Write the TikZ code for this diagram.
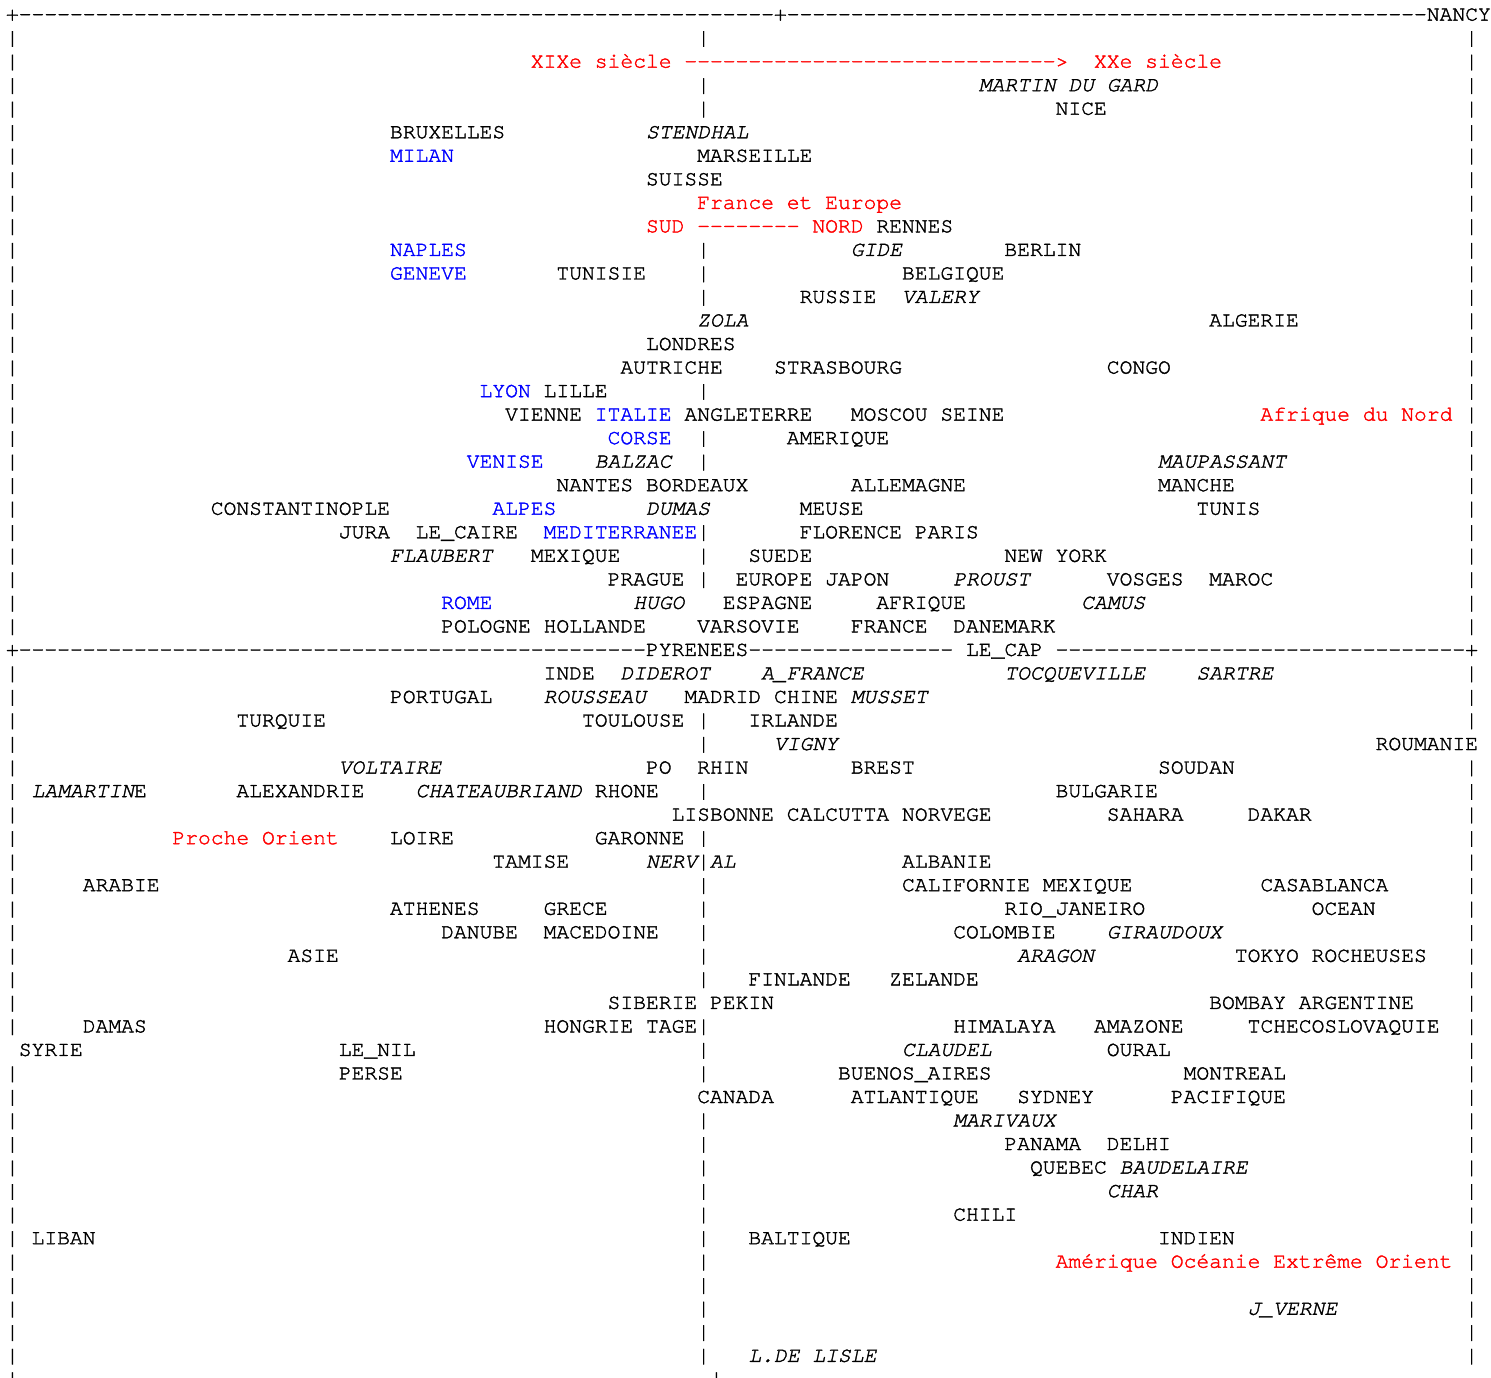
\documentclass[tikz,border=0pt]{standalone}
\usepackage{fontspec}
\newfontfamily\mono{texgyrecursor}[Extension=.otf, UprightFont=*-regular, ItalicFont=*-italic, BoldFont=*-bold, BoldItalicFont=*-bolditalic, FakeBold=1.6]
\newcommand\mf{\mono\fontsize{10.667pt}{11.76pt}\selectfont}
\newcount\wcount
\tikzset{
  w/.style={anchor=base west, inner sep=0pt, outer sep=0pt, font=\mf, text=black},
  it/.style={font=\mf\itshape},
  rd/.style={text=red},
  bl/.style={text=blue}
}
% \W[style]{column}{row}{text}
\newcommand{\W}[4][]{\global\advance\wcount by 1
  \node[w,#1] (w\the\wcount) at ({3pt+#2*6.4pt},{-10.3pt-#3*11.765pt}) {#4};}
\begin{document}
\begin{tikzpicture}
\fill[white] (0,0) rectangle (745.5pt,-688.5pt);
\useasboundingbox (0,0) rectangle (745.5pt,-688.5pt);
% ---- frame: top line
\W{0}{0}{+}
\foreach \c in {1,...,59} {\W{\c}{0}{-}}
\W{60}{0}{+}
\foreach \c in {61,...,110} {\W{\c}{0}{-}}
\W{111}{0}{NANCY}
% ---- middle line
\W{0}{27}{+}
\foreach \c in {1,...,49} {\W{\c}{27}{-}}
\W{50}{27}{PYRENEES}
\foreach \c in {58,...,73} {\W{\c}{27}{-}}
\W{75}{27}{LE\_CAP}
\foreach \c in {82,...,113} {\W{\c}{27}{-}}
\W{114}{27}{+}
% ---- left border
\foreach \r in {1,...,26,28,29,...,43,45,46,...,58} {\W{0}{\r}{|}}
% ---- right border
\foreach \r in {1,...,26,28,29,30,32,33,...,57} {\W{114}{\r}{|}}
% ---- middle axis
\foreach \r in {1,3,4,10,11,12,16,18,19,22,23,24,30,31,33,35,36,37,38,39,40,41,43,44,45,47,48,49,50,51,52,53,54,55,56,57} {\W{54}{\r}{|}}
\W{55}{58}{|}
% ---- row 2: arrow
\W[rd]{41}{2}{XIXe siècle}
\foreach \c in {53,...,81} {\W[rd]{\c}{2}{-}}
\W[rd]{82}{2}{>}
\W[rd]{85}{2}{XXe siècle}
% ---- upper half
\W[it]{76}{3}{MARTIN DU GARD}
\W{82}{4}{NICE}
\W{30}{5}{BRUXELLES}
\W[it]{50}{5}{STENDHAL}
\W[bl]{30}{6}{MILAN}
\W{54}{6}{MARSEILLE}
\W{50}{7}{SUISSE}
\W[rd]{54}{8}{France et Europe}
\W[rd]{50}{9}{SUD}
\foreach \c in {54,...,61} {\W[rd]{\c}{9}{-}}
\W[rd]{63}{9}{NORD}
\W{68}{9}{RENNES}
\W[bl]{30}{10}{NAPLES}
\W[it]{66}{10}{GIDE}
\W{78}{10}{BERLIN}
\W[bl]{30}{11}{GENEVE}
\W{43}{11}{TUNISIE}
\W{70}{11}{BELGIQUE}
\W{62}{12}{RUSSIE}
\W[it]{70}{12}{VALERY}
\W[it]{54}{13}{ZOLA}
\W{94}{13}{ALGERIE}
\W{50}{14}{LONDRES}
\W{48}{15}{AUTRICHE}
\W{60}{15}{STRASBOURG}
\W{86}{15}{CONGO}
\W[bl]{37}{16}{LYON}
\W{42}{16}{LILLE}
\W{39}{17}{VIENNE}
\W[bl]{46}{17}{ITALIE}
\W{53}{17}{ANGLETERRE}
\W{66}{17}{MOSCOU}
\W{73}{17}{SEINE}
\W[rd]{98}{17}{Afrique du Nord}
\W[bl]{47}{18}{CORSE}
\W{61}{18}{AMERIQUE}
\W[bl]{36}{19}{VENISE}
\W[it]{46}{19}{BALZAC}
\W[it]{90}{19}{MAUPASSANT}
\W{43}{20}{NANTES}
\W{50}{20}{BORDEAUX}
\W{66}{20}{ALLEMAGNE}
\W{90}{20}{MANCHE}
\W{16}{21}{CONSTANTINOPLE}
\W[bl]{38}{21}{ALPES}
\W[it]{50}{21}{DUMAS}
\W{62}{21}{MEUSE}
\W{93}{21}{TUNIS}
\W{26}{22}{JURA}
\W{32}{22}{LE\_CAIRE}
\W[bl]{42}{22}{MEDITERRANEE}
\W{62}{22}{FLORENCE}
\W{71}{22}{PARIS}
\W[it]{30}{23}{FLAUBERT}
\W{41}{23}{MEXIQUE}
\W{58}{23}{SUEDE}
\W{78}{23}{NEW YORK}
\W{47}{24}{PRAGUE}
\W{57}{24}{EUROPE}
\W{64}{24}{JAPON}
\W[it]{74}{24}{PROUST}
\W{86}{24}{VOSGES}
\W{94}{24}{MAROC}
\W[bl]{34}{25}{ROME}
\W[it]{49}{25}{HUGO}
\W{56}{25}{ESPAGNE}
\W{68}{25}{AFRIQUE}
\W[it]{84}{25}{CAMUS}
\W{34}{26}{POLOGNE}
\W{42}{26}{HOLLANDE}
\W{54}{26}{VARSOVIE}
\W{66}{26}{FRANCE}
\W{74}{26}{DANEMARK}
% ---- lower half
\W{42}{28}{INDE}
\W[it]{48}{28}{DIDEROT}
\W[it]{59}{28}{A\_FRANCE}
\W[it]{78}{28}{TOCQUEVILLE}
\W[it]{93}{28}{SARTRE}
\W{30}{29}{PORTUGAL}
\W[it]{42}{29}{ROUSSEAU}
\W{53}{29}{MADRID}
\W{60}{29}{CHINE}
\W[it]{66}{29}{MUSSET}
\W{18}{30}{TURQUIE}
\W{45}{30}{TOULOUSE}
\W{58}{30}{IRLANDE}
\W[it]{60}{31}{VIGNY}
\W{107}{31}{ROUMANIE}
\W[it]{26}{32}{VOLTAIRE}
\W{50}{32}{PO}
\W{54}{32}{RHIN}
\W{66}{32}{BREST}
\W{90}{32}{SOUDAN}
\W[it]{2}{33}{LAMARTIN}
\W{10}{33}{E}
\W{18}{33}{ALEXANDRIE}
\W[it]{32}{33}{CHATEAUBRIAND}
\W{46}{33}{RHONE}
\W{82}{33}{BULGARIE}
\W{52}{34}{LISBONNE}
\W{61}{34}{CALCUTTA}
\W{70}{34}{NORVEGE}
\W{86}{34}{SAHARA}
\W{97}{34}{DAKAR}
\W[rd]{13}{35}{Proche Orient}
\W{30}{35}{LOIRE}
\W{46}{35}{GARONNE}
\W{38}{36}{TAMISE}
\W[it]{50}{36}{NERV}
\W[it]{55}{36}{AL}
\W{70}{36}{ALBANIE}
\W{6}{37}{ARABIE}
\W{70}{37}{CALIFORNIE}
\W{81}{37}{MEXIQUE}
\W{98}{37}{CASABLANCA}
\W{30}{38}{ATHENES}
\W{42}{38}{GRECE}
\W{78}{38}{RIO\_JANEIRO}
\W{102}{38}{OCEAN}
\W{34}{39}{DANUBE}
\W{42}{39}{MACEDOINE}
\W{74}{39}{COLOMBIE}
\W[it]{86}{39}{GIRAUDOUX}
\W{22}{40}{ASIE}
\W[it]{79}{40}{ARAGON}
\W{96}{40}{TOKYO}
\W{102}{40}{ROCHEUSES}
\W{58}{41}{FINLANDE}
\W{69}{41}{ZELANDE}
\W{47}{42}{SIBERIE}
\W{55}{42}{PEKIN}
\W{94}{42}{BOMBAY}
\W{101}{42}{ARGENTINE}
\W{6}{43}{DAMAS}
\W{42}{43}{HONGRIE}
\W{50}{43}{TAGE}
\W{74}{43}{HIMALAYA}
\W{85}{43}{AMAZONE}
\W{97}{43}{TCHECOSLOVAQUIE}
\W{1}{44}{SYRIE}
\W{26}{44}{LE\_NIL}
\W[it]{70}{44}{CLAUDEL}
\W{86}{44}{OURAL}
\W{26}{45}{PERSE}
\W{65}{45}{BUENOS\_AIRES}
\W{92}{45}{MONTREAL}
\W{54}{46}{CANADA}
\W{66}{46}{ATLANTIQUE}
\W{79}{46}{SYDNEY}
\W{91}{46}{PACIFIQUE}
\W[it]{74}{47}{MARIVAUX}
\W{78}{48}{PANAMA}
\W{86}{48}{DELHI}
\W{80}{49}{QUEBEC}
\W[it]{87}{49}{BAUDELAIRE}
\W[it]{86}{50}{CHAR}
\W{74}{51}{CHILI}
\W{2}{52}{LIBAN}
\W{58}{52}{BALTIQUE}
\W{90}{52}{INDIEN}
\W[rd]{82}{53}{Amérique Océanie Extrême Orient}
\W[it]{97}{55}{J\_VERNE}
\W[it]{58}{57}{L.DE LISLE}
\end{tikzpicture}
\end{document}
